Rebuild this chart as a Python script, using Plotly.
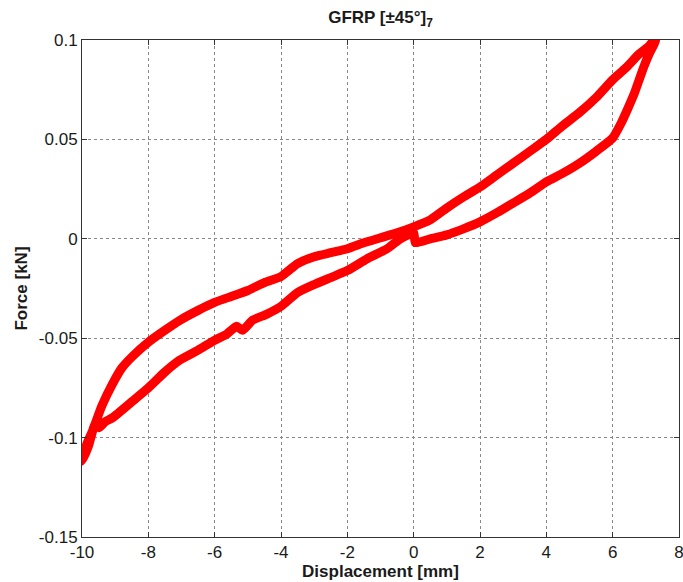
import plotly.graph_objects as go

# Loading branch (left to right)
up_x = [-10.0, -9.85, -9.68, -9.4, -9.08, -8.8, -8.47, -8.0, -7.5, -7.05, -6.5, -6.0,
        -5.5, -5.0, -4.5, -4.0, -3.5, -3.0, -2.5, -2.0, -1.5, -1.0, -0.5, 0.0, 0.5,
        1.0, 1.5, 2.0, 2.5, 3.0, 3.5, 4.0, 4.5, 5.0, 5.5, 6.0, 6.4, 6.8, 7.1, 7.25]
up_y = [-0.112, -0.103, -0.0965, -0.084, -0.073, -0.065, -0.059, -0.052, -0.046, -0.041,
        -0.036, -0.032, -0.029, -0.026, -0.022, -0.019, -0.0125, -0.009, -0.007, -0.005,
        -0.002, 0.0005, 0.003, 0.006, 0.0095, 0.0155, 0.021, 0.026, 0.032, 0.038, 0.044,
        0.050, 0.057, 0.0635, 0.071, 0.080, 0.086, 0.093, 0.097, 0.100]

# Unloading branch (right to left)
dn_x = [7.3, 7.1, 6.95, 6.82, 6.65, 6.47, 6.25, 6.0, 5.5, 5.0, 4.5, 4.0, 3.5, 3.0, 2.5,
        2.0, 1.5, 1.0, 0.5, 0.05, 0.0, -0.4, -0.8, -1.4, -2.0, -2.5, -3.0, -3.5, -4.0,
        -4.44, -4.86, -5.16, -5.34, -5.64, -6.0, -6.5, -7.05, -7.5, -8.0, -8.5, -9.08,
        -9.3, -9.48, -9.6, -9.8, -10.0]
dn_y = [0.100, 0.093, 0.087, 0.081, 0.073, 0.066, 0.058, 0.0507, 0.044, 0.038, 0.033,
        0.0286, 0.023, 0.018, 0.013, 0.0085, 0.005, 0.002, 0.0, -0.002, 0.003, 0.0,
        -0.005, -0.010, -0.016, -0.0195, -0.023, -0.027, -0.034, -0.038, -0.041, -0.046,
        -0.044, -0.048, -0.051, -0.056, -0.061, -0.067, -0.075, -0.082, -0.090, -0.092,
        -0.095, -0.093, -0.104, -0.112]

x_ticks = [-10, -8, -6, -4, -2, 0, 2, 4, 6, 8]
y_ticks = [-0.15, -0.1, -0.05, 0, 0.05, 0.1]
y_labels = ["-0.15", "-0.1", "-0.05", "0", "0.05", "0.1"]

FAM = "Liberation Sans, Arial, sans-serif"

fig = go.Figure()
fig.add_trace(go.Scatter(
    x=up_x + dn_x, y=up_y + dn_y, mode="lines",
    line=dict(color="#ff0000", width=9, shape="spline", smoothing=0.5),
    showlegend=False, hoverinfo="skip"))

title_font = dict(family=FAM, size=17, color="#1a1a1a")
axis_common = dict(
    showline=True, linecolor="#333333", linewidth=1, mirror="ticks",
    ticks="inside", ticklen=5, tickcolor="#333333",
    showgrid=True, gridcolor="#888888", griddash="dot", gridwidth=1,
    zeroline=False, automargin=False, ticklabeloverflow="allow",
    tickfont=dict(family=FAM, size=17, color="#1a1a1a"),
)
fig.update_xaxes(range=[-10, 8], tickvals=x_ticks, ticktext=[str(v) for v in x_ticks],
                 title=dict(text="<b>Displacement [mm]</b>", font=title_font, standoff=2),
                 **axis_common)
fig.update_yaxes(range=[-0.15, 0.1], tickvals=y_ticks, ticktext=y_labels,
                 title=dict(text="<b>Force [kN]</b>", font=title_font, standoff=6),
                 **axis_common)
fig.update_layout(
    width=683, height=582,
    margin=dict(l=82, r=4, t=40, b=45),
    paper_bgcolor="white", plot_bgcolor="white",
    title=dict(text="<b>GFRP [±45°]<sub>7</sub></b>", x=0.5, xref="paper",
               xanchor="center", y=1 - 17 / 582, yanchor="middle",
               font=dict(family=FAM, size=17, color="#1a1a1a")),
)
fig.write_html(
    "out.html",
    config={"displayModeBar": False},
    post_script="document.body.style.margin='0';document.body.style.overflow='hidden';",
)
